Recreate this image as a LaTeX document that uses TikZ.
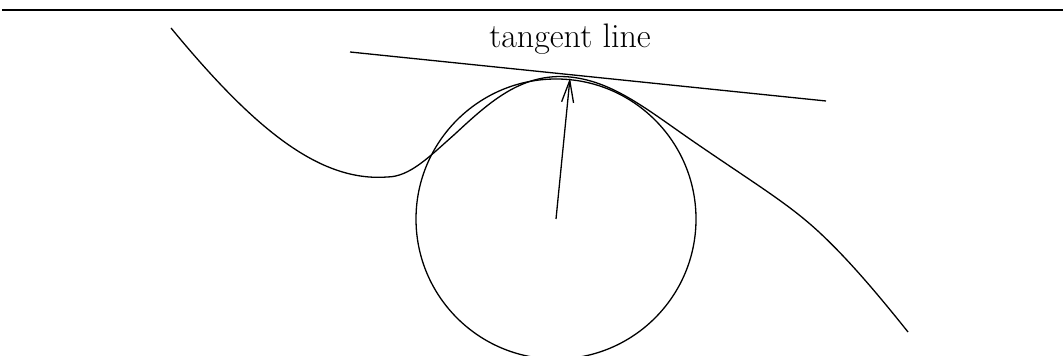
\documentclass[tikz,border=0pt]{standalone}
\usetikzlibrary{arrows.meta}
\begin{document}
\begin{tikzpicture}[x=0.5pt,y=-0.5pt,line width=0.65pt,
  lbl/.style={font=\fontsize{17}{20}\selectfont,inner sep=0pt,anchor=base}]
\useasboundingbox (0,0) rectangle (1063,356);
\coordinate (ruleL) at (2,10);
\coordinate (ruleR) at (1063,10);
\draw (ruleL) -- (ruleR);
\coordinate (c) at (556,219);
\coordinate (t) at (570,78);
\coordinate (tanL) at (350,52);
\coordinate (tanR) at (826,101);
\draw (c) circle[radius=70pt];
\draw (tanL) -- (tanR);
\draw[-{Straight Barb[length=11pt,width=6pt]}] (c) -- (t);
\node[lbl] (label) at (570,48) {tangent line};
\coordinate (p0) at (171,28);
\coordinate (p1) at (387,177);
\coordinate (p2) at (455,134);
\coordinate (p3) at (570,77);
\coordinate (p4) at (700,146);
\coordinate (p5) at (820,233);
\coordinate (p6) at (908,332);
\draw (p0) .. controls (255,130) and (320,182) .. (p1)
  .. controls (410,177) and (430,156) .. (p2)
  .. controls (490,101.5) and (522,72.5) .. (p3)
  .. controls (615,81.6) and (650,112) .. (p4)
  .. controls (760,187) and (790,205) .. (p5)
  .. controls (850,261) and (880,297) .. (p6);
\end{tikzpicture}
\end{document}
